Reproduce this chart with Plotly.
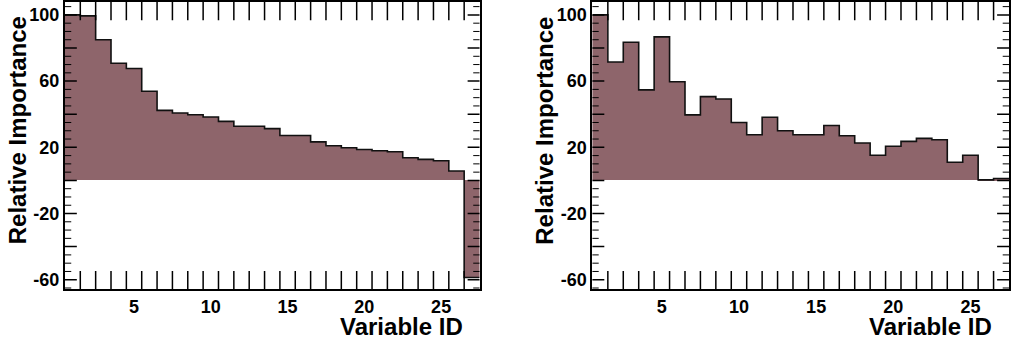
import plotly.graph_objects as go

# ---- data ----
variable_id = list(range(1, 28))
left_importance = [100, 99.4, 85.0, 70.8, 67.6, 53.9, 42.3, 40.7, 39.7, 38.3, 35.7,
                   32.7, 32.7, 31.3, 27.1, 27.1, 23.3, 20.9, 19.7, 18.7, 17.9, 17.3,
                   13.7, 12.7, 11.9, 5.7, -58.7]
right_importance = [100, 71.5, 83.5, 54.7, 86.7, 59.6, 39.6, 50.6, 49.2, 35.0, 27.6,
                    38.2, 30.0, 27.6, 27.6, 33.2, 27.0, 22.6, 15.2, 20.6, 23.6, 25.4,
                    24.6, 11.0, 15.2, 0.3, 1.2]
y_tick_vals = [-60, -40, -20, 0, 20, 40, 60, 80, 100]
y_tick_text = ["-60", "", "-20", "", "20", "", "60", "", "100"]
y_minor_vals = [v for v in range(-65, 106, 5) if v % 20 != 0]
x_tick_vals = [5, 10, 15, 20, 25]
x_title = "Variable ID"
y_title = "Relative Importance"

FILL = "#8E656B"
W, H = 1011, 347
FONT = "Liberation Sans, Arial, sans-serif"

fig = go.Figure()

panels = [
    (left_importance, "x", "y", (65, 480)),
    (right_importance, "x2", "y2", (593, 1010)),
]

edges_min = variable_id[0] - 0.5
edges_max = variable_id[-1] + 0.5
x_bin_edges = [v + 0.5 for v in variable_id[:-1]]
yrange = [-65.8, 107.8]
ydom = [1 - 290 / H, 1 - 1 / H]


def tick_marks(xs, ys, symbol, size, width, xa, ya):
    # tick marks placed on the frame edge; the half outside the plot area is clipped
    return go.Scatter(x=xs, y=ys, mode="markers", cliponaxis=True,
                      marker=dict(symbol=symbol, size=size, color="black",
                                  line=dict(color="black", width=width)),
                      xaxis=xa, yaxis=ya, showlegend=False, hoverinfo="skip")


for vals, xa, ya, _ in panels:
    fig.add_trace(go.Bar(x=variable_id, y=vals, width=1.0, marker=dict(color=FILL, line=dict(width=0)),
                         xaxis=xa, yaxis=ya, showlegend=False, hoverinfo="skip"))
    step_x = [v - 0.5 for v in variable_id] + [variable_id[-1] + 0.5]
    step_y = list(vals) + [vals[-1]]
    fig.add_trace(go.Scatter(x=step_x, y=step_y, mode="lines", line=dict(color="#111111", width=1.6, shape="hv"),
                             xaxis=xa, yaxis=ya, showlegend=False, hoverinfo="skip"))
    # x ticks (bottom & top) at bin edges
    for yv in yrange:
        fig.add_trace(tick_marks(x_bin_edges, [yv] * len(x_bin_edges), "line-ns", 26, 1.5, xa, ya))
    # y ticks (left & right), major and minor
    for xv in (edges_min, edges_max):
        fig.add_trace(tick_marks([xv] * len(y_tick_vals), y_tick_vals, "line-ew", 17, 1.5, xa, ya))
        fig.add_trace(tick_marks([xv] * len(y_minor_vals), y_minor_vals, "line-ew", 9, 1, xa, ya))

fig.update_layout(
    width=W, height=H, margin=dict(l=0, r=0, t=0, b=0),
    paper_bgcolor="white", plot_bgcolor="white",
    bargap=0, barmode="overlay",
    font=dict(family=FONT, color="black"),
)

annotations = []
for i, (vals, xa, ya, (px0, px1)) in enumerate(panels):
    xk = "xaxis" if i == 0 else "xaxis2"
    yk = "yaxis" if i == 0 else "yaxis2"
    fig.update_layout({
        xk: dict(
            domain=[px0 / W, px1 / W], anchor=ya, range=[edges_min, edges_max],
            showgrid=False, zeroline=False, showline=True, linecolor="black", linewidth=2,
            mirror=True, tickvals=x_tick_vals, ticks="",
            tickfont=dict(family=FONT, size=18, color="black", weight="bold"),
        ),
        yk: dict(
            domain=ydom, anchor=xa, range=yrange,
            showgrid=False, zeroline=False, showline=True, linecolor="black", linewidth=2,
            mirror=True, tickvals=y_tick_vals, ticktext=y_tick_text, ticks="",
            tickfont=dict(family=FONT, size=18, color="black", weight="bold"),
        ),
    })
    title_x = 17 if i == 0 else 545
    annotations.append(dict(
        text=y_title, textangle=-90, xref="paper", yref="paper",
        x=title_x / W, y=1 - 130 / H, xanchor="center", yanchor="middle", showarrow=False,
        font=dict(family=FONT, size=24, weight="bold", color="black")))
    vx = 465 if i == 0 else 995
    annotations.append(dict(
        text=x_title, xref="paper", yref="paper",
        x=vx / W, y=1 - 327 / H, xanchor="right", yanchor="middle", showarrow=False,
        font=dict(family=FONT, size=24, weight="bold", color="black")))

fig.update_layout(annotations=annotations)
fig.write_html("out.html")
